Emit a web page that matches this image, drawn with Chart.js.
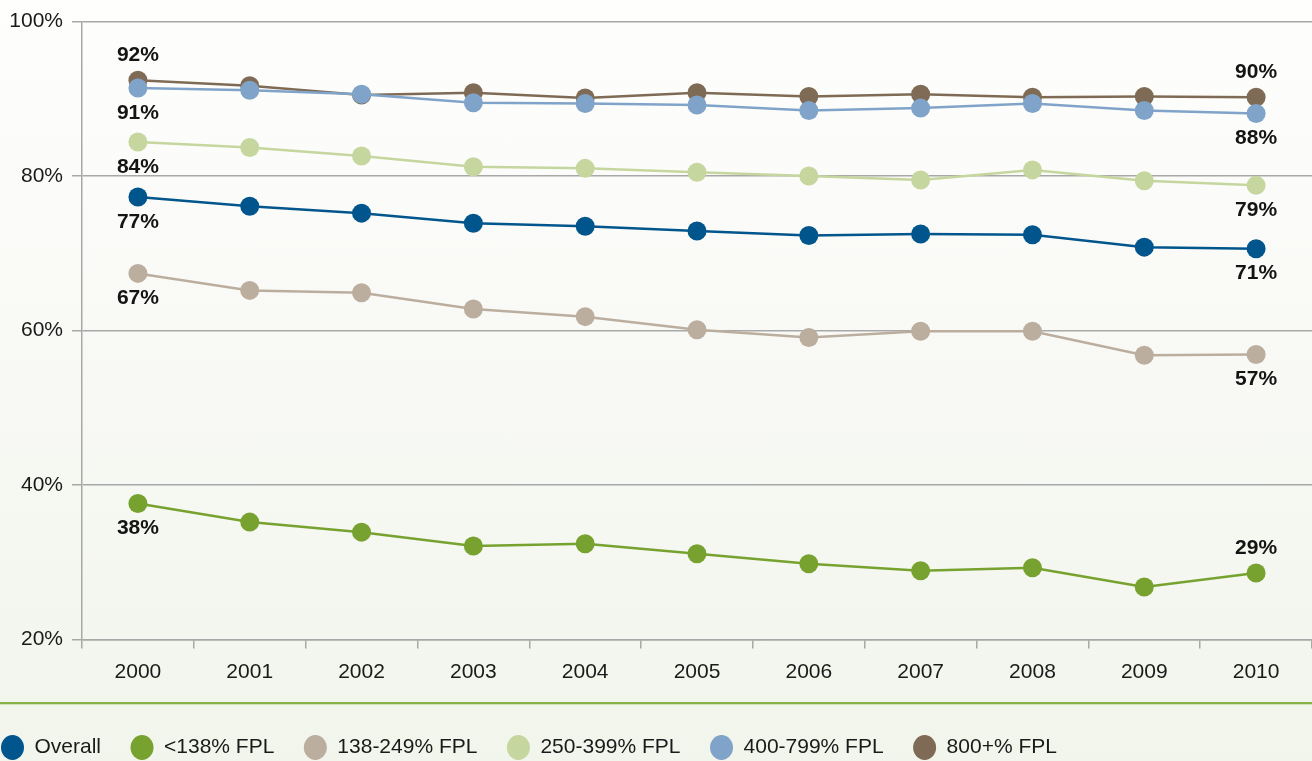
<!DOCTYPE html>
<html>
<head>
<meta charset="utf-8">
<script src="https://cdn.jsdelivr.net/npm/chart.js@4/dist/chart.umd.min.js"></script>
<style>
  html, body { margin: 0; padding: 0; }
  body {
    width: 1312px; height: 761px; overflow: hidden;
    background: linear-gradient(to bottom, #fefefd 0%, #f8f9f5 50%, #f1f5eb 100%);
  }
  #wrap { position: relative; width: 1312px; height: 761px; }
</style>
</head>
<body>
<div id="wrap"><canvas id="chart"></canvas></div>
<script>
// Years on the x axis
const years = ['2000','2001','2002','2003','2004','2005','2006','2007','2008','2009','2010'];

// Share of people covered, by income group (% of the federal poverty level)
const overall   = [77.3, 76.1, 75.2, 73.9, 73.5, 72.9, 72.3, 72.5, 72.4, 70.8, 70.6];
const below138  = [37.6, 35.2, 33.9, 32.1, 32.4, 31.1, 29.8, 28.9, 29.3, 26.8, 28.6];
const fpl138    = [67.4, 65.2, 64.9, 62.8, 61.8, 60.1, 59.1, 59.9, 59.9, 56.8, 56.9];
const fpl250    = [84.4, 83.7, 82.6, 81.2, 81.0, 80.5, 80.0, 79.5, 80.8, 79.4, 78.8];
const fpl400    = [91.4, 91.1, 90.6, 89.5, 89.4, 89.2, 88.5, 88.8, 89.4, 88.5, 88.1];
const fpl800    = [92.4, 91.7, 90.5, 90.8, 90.1, 90.8, 90.3, 90.6, 90.2, 90.3, 90.2];

const seriesNames = ['Overall', '<138% FPL', '138-249% FPL', '250-399% FPL', '400-799% FPL', '800+% FPL'];
const seriesValues = [overall, below138, fpl138, fpl250, fpl400, fpl800];
const seriesColors = ['#00558c', '#77a22f', '#bcae9f', '#c5d69f', '#80a3c9', '#7f6b55'];

// Y-axis tick values
const yTicks = [20, 40, 60, 80, 100];

// Where the end-point value labels sit: [first point, last point], -1 above, +1 below
const labelSides = [[1, 1], [1, -1], [1, 1], [1, 1], [1, 1], [-1, -1]];

const FONT = '"Liberation Sans", Arial, Helvetica, sans-serif';

const endLabels = {
  id: 'endLabels',
  afterDatasetsDraw(chart) {
    const ctx = chart.ctx;
    ctx.save();
    ctx.font = 'bold 21px ' + FONT;
    ctx.fillStyle = '#141414';
    ctx.textAlign = 'center';
    ctx.textBaseline = 'middle';
    chart.data.datasets.forEach((ds, di) => {
      const meta = chart.getDatasetMeta(di);
      const last = ds.data.length - 1;
      [[0, labelSides[di][0]], [last, labelSides[di][1]]].forEach(([idx, side]) => {
        const pt = meta.data[idx];
        const txt = Math.round(ds.data[idx]) + '%';
        ctx.fillText(txt, pt.x, pt.y + side * 25);
      });
    });
    ctx.restore();
  }
};

const separator = {
  id: 'separator',
  afterDraw(chart) {
    const ctx = chart.ctx;
    const y = Math.round(chart.scales.x.bottom) - 6;
    ctx.save();
    ctx.fillStyle = '#86b347';
    ctx.fillRect(0, y, chart.width, 2);
    ctx.fillStyle = 'rgba(196,218,160,0.7)';
    ctx.fillRect(0, y + 2, chart.width, 1);
    ctx.restore();
  }
};

new Chart(document.getElementById('chart'), {
  type: 'line',
  data: {
    labels: years,
    datasets: seriesNames.map((name, i) => ({
      label: name,
      data: seriesValues[i],
      borderColor: seriesColors[i],
      backgroundColor: seriesColors[i],
      pointBackgroundColor: seriesColors[i],
      pointBorderColor: seriesColors[i],
      borderWidth: 2.5,
      pointRadius: 9.5,
      pointHoverRadius: 9.5,
      pointBorderWidth: 0,
      tension: 0,
      fill: false
    }))
  },
  options: {
    responsive: true,
    maintainAspectRatio: false,
    animation: false,
    events: [],
    layout: { autoPadding: false, padding: { top: 19, left: -28.5, right: 0, bottom: -7 } },
    scales: {
      x: {
        offset: true,
        grid: {
          offset: true,
          drawOnChartArea: false,
          drawTicks: true,
          tickLength: 9,
          color: '#a8a8a8',
          lineWidth: 1.5
        },
        border: { color: '#a8a8a8', width: 1.5 },
        ticks: { color: '#1a1a1a', font: { family: FONT, size: 21 }, padding: 11 },
        afterFit(scale) { scale.height = 68; }
      },
      y: {
        min: 20,
        max: 100,
        afterBuildTicks(scale) { scale.ticks = yTicks.map(v => ({ value: v })); },
        grid: { color: '#a8a8a8', lineWidth: 1.5, tickLength: 10 },
        border: { color: '#a8a8a8', width: 1.5 },
        ticks: {
          color: '#1a1a1a',
          font: { family: FONT, size: 21 },
          padding: 9,
          callback: v => v + '%'
        },
        afterFit(scale) { scale.width = 110.5; }
      }
    },
    plugins: {
      legend: {
        position: 'bottom',
        align: 'start',
        labels: {
          usePointStyle: true,
          pointStyle: 'circle',
          pointStyleWidth: 23,
          boxHeight: 17.7,
          padding: 29.5,
          color: '#1a1a1a',
          font: { family: FONT, size: 21 }
        }
      },
      tooltip: { enabled: false }
    }
  },
  plugins: [endLabels, separator]
});
</script>
</body>
</html>
